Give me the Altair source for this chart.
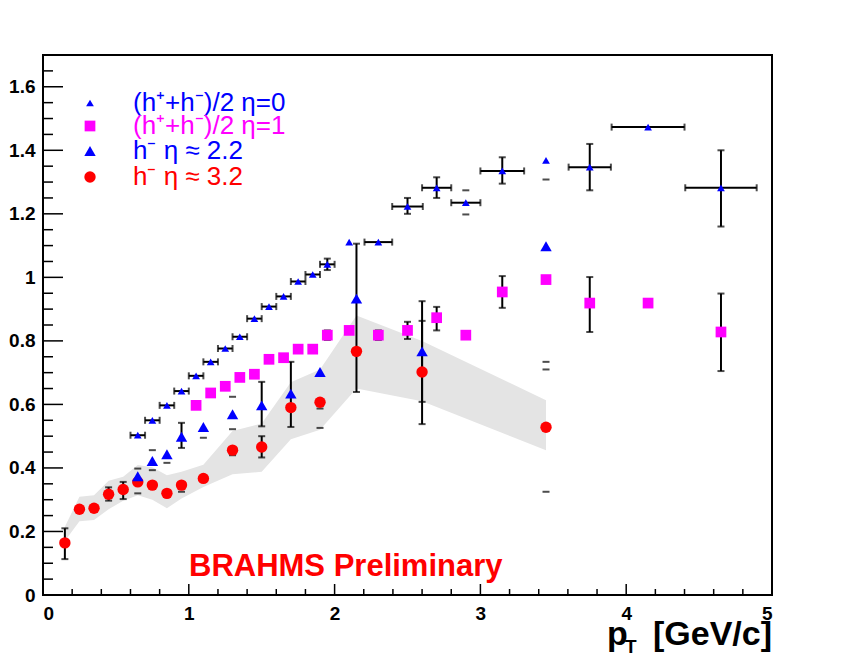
import altair as alt
import pandas as pd

# ---------------- data ----------------
# (h+ + h-)/2, eta = 0  (small blue triangles)
e0_x = [0.65, 0.75, 0.85, 0.95, 1.05, 1.15, 1.25, 1.35, 1.45, 1.55, 1.65, 1.75, 1.85, 1.95,
        2.1, 2.3, 2.5, 2.7, 2.9, 3.15, 3.45, 3.75, 4.15, 4.65]
e0_y = [0.503, 0.550, 0.597, 0.642, 0.690, 0.734, 0.776, 0.813, 0.870, 0.908, 0.940, 0.987, 1.009, 1.041,
        1.111, 1.111, 1.223, 1.282, 1.235, 1.335, 1.368, 1.347, 1.473, 1.282]
e0_ylo = [0, 0, 0, 0, 0, 0, 0, 0, 0, 0, 0, 0, 0, 0.018,
          0, 0, 0.023, 0.032, 0, 0.040, 0, 0.073, 0, 0.122]
e0_yhi = [0, 0, 0, 0, 0, 0, 0, 0, 0, 0, 0, 0, 0, 0.018,
          0, 0, 0.027, 0.033, 0, 0.043, 0, 0.073, 0, 0.118]
e0_xerr = [0.05, 0.05, 0.05, 0.05, 0.05, 0.05, 0.05, 0.05, 0.05, 0.05, 0.05, 0.05, 0.05, 0.05,
           0, 0.095, 0.105, 0.1, 0.1, 0.15, 0, 0.145, 0.25, 0.245]

# (h+ + h-)/2, eta = 1  (magenta squares)
e1_x = [1.05, 1.15, 1.25, 1.35, 1.45, 1.55, 1.65, 1.75, 1.85, 1.95, 2.1, 2.3, 2.5, 2.7, 2.9,
        3.15, 3.45, 3.75, 4.15, 4.65]
e1_y = [0.597, 0.636, 0.657, 0.685, 0.695, 0.742, 0.747, 0.774, 0.774, 0.818, 0.833, 0.818, 0.833,
        0.873, 0.818, 0.954, 0.993, 0.919, 0.919, 0.828]
e1_ylo = [0, 0, 0, 0, 0, 0, 0, 0, 0, 0.015, 0, 0.015, 0.027, 0.040, 0, 0.050, 0, 0.091, 0, 0.123]
e1_yhi = [0, 0, 0, 0, 0, 0, 0, 0, 0, 0.015, 0, 0.015, 0.027, 0.034, 0, 0.050, 0, 0.082, 0, 0.121]

# h-, eta ~ 2.2  (blue triangles)
e2_x = [0.65, 0.75, 0.85, 0.95, 1.1, 1.3, 1.5, 1.7, 1.9, 2.15, 2.6, 3.45]
e2_y = [0.374, 0.422, 0.443, 0.498, 0.529, 0.569, 0.597, 0.634, 0.702, 0.933, 0.767, 1.098]
e2_ylo = [0, 0, 0, 0.035, 0, 0, 0.066, 0.105, 0, 0.294, 0.229, 0]
e2_yhi = [0, 0, 0, 0.044, 0, 0, 0.074, 0.100, 0, 0.173, 0.158, 0]

# h-, eta ~ 3.2  (red circles)
e3_x = [0.15, 0.25, 0.35, 0.45, 0.55, 0.65, 0.75, 0.85, 0.95, 1.1, 1.3, 1.5, 1.7, 1.9, 2.15, 2.6, 3.45]
e3_y = [0.164, 0.270, 0.273, 0.317, 0.332, 0.356, 0.346, 0.320, 0.346, 0.367, 0.456, 0.466,
        0.590, 0.607, 0.767, 0.702, 0.528]
e3_ylo = [0.051, 0, 0, 0.020, 0.030, 0, 0, 0, 0, 0, 0, 0.033, 0, 0, 0, 0.094, 0]
e3_yhi = [0.046, 0, 0, 0.022, 0.024, 0, 0, 0, 0, 0, 0, 0.034, 0, 0, 0, 0.161, 0]

# systematic band of the eta ~ 3.2 points
band_x = [0.15, 0.25, 0.35, 0.45, 0.55, 0.65, 0.75, 0.85, 0.95, 1.1, 1.3, 1.5, 1.7, 1.9, 2.15, 2.6, 3.45]
band_hi = [0.215, 0.309, 0.314, 0.360, 0.372, 0.409, 0.402, 0.377, 0.388, 0.410, 0.516, 0.540,
           0.670, 0.710, 0.880, 0.800, 0.613]
band_lo = [0.170, 0.232, 0.236, 0.270, 0.297, 0.314, 0.300, 0.273, 0.304, 0.340, 0.380, 0.388,
           0.490, 0.520, 0.650, 0.610, 0.456]

# error-bar end caps drawn without a visible bar
cap_x = [0.65, 0.65, 0.75, 0.75, 0.85, 0.95, 1.1, 1.3, 1.3, 1.3, 1.9, 1.9, 2.9, 2.9, 3.45, 3.45, 3.45, 3.45]
cap_y = [0.398, 0.320, 0.456, 0.393, 0.416, 0.325, 0.495, 0.624, 0.522, 0.440, 0.587, 0.526,
         1.274, 1.198, 1.308, 0.734, 0.710, 0.325]

# axis ticks
y_major = [0, 0.2, 0.4, 0.6, 0.8, 1.0, 1.2, 1.4, 1.6]
y_minor = [0.05, 0.1, 0.15, 0.25, 0.3, 0.35, 0.45, 0.5, 0.55, 0.65, 0.7, 0.75, 0.85, 0.9, 0.95,
           1.05, 1.1, 1.15, 1.25, 1.3, 1.35, 1.45, 1.5, 1.55, 1.65]
x_major = [0, 1, 2, 3, 4, 5]
x_minor = [0.2, 0.4, 0.6, 0.8, 1.2, 1.4, 1.6, 1.8, 2.2, 2.4, 2.6, 2.8, 3.2, 3.4, 3.6, 3.8,
           4.2, 4.4, 4.6, 4.8]

legend_labels = ["(h\u207a+h\u207b)/2 \u03b7=0", "(h\u207a+h\u207b)/2 \u03b7=1",
                 "h\u207b \u03b7 \u2248 2.2", "h\u207b \u03b7 \u2248 3.2"]

# ---------------- chart ----------------
W, H = 729, 540
FONT = "Liberation Sans"
BLUE, MAG, RED = "#0000ff", "#ff00ff", "#ff0000"
S_SMALL_TRI, S_SQ, S_TRI, S_CIRC = 60, 115, 130, 130

xs = alt.Scale(domain=[0, 5], nice=False, zero=False)
ys = alt.Scale(domain=[0, 1.7], nice=False, zero=False)

x_axis = alt.Axis(values=x_major, labelFont=FONT, labelFontSize=19, labelFontWeight="bold",
                  labelColor="black", ticks=False, tickSize=0, domain=False, grid=False,
                  labelPadding=9, labelExpr="format(datum.value, '~g')", title=None)
y_axis = alt.Axis(values=y_major, labelFont=FONT, labelFontSize=19, labelFontWeight="bold",
                  labelColor="black", ticks=False, tickSize=0, domain=False, grid=False,
                  labelPadding=8, labelExpr="format(datum.value, '~g')", title=None)


def X(f):
    return alt.X(f, type="quantitative", scale=xs, axis=x_axis)


def Y(f):
    return alt.Y(f, type="quantitative", scale=ys, axis=y_axis)


def series_df(x, y, ylo, yhi, xerr=None):
    d = pd.DataFrame({"x": x, "y": y, "ylo": ylo, "yhi": yhi})
    d["xerr"] = xerr if xerr is not None else [0] * len(x)
    d["y1"] = d["y"] - d["ylo"]
    d["y2"] = d["y"] + d["yhi"]
    d["x1"] = d["x"] - d["xerr"]
    d["x2"] = d["x"] + d["xerr"]
    return d


s0 = series_df(e0_x, e0_y, e0_ylo, e0_yhi, e0_xerr)
s1 = series_df(e1_x, e1_y, e1_ylo, e1_yhi)
s2 = series_df(e2_x, e2_y, e2_ylo, e2_yhi)
s3 = series_df(e3_x, e3_y, e3_ylo, e3_yhi)
allS = pd.concat([s0, s1, s2, s3], ignore_index=True)

vbars = allS[(allS["ylo"] > 0) | (allS["yhi"] > 0)]
hbars = allS[allS["xerr"] > 0]
vcaps = pd.concat([pd.DataFrame({"x": vbars["x"], "y": vbars["y1"]}),
                   pd.DataFrame({"x": vbars["x"], "y": vbars["y2"]}),
                   pd.DataFrame({"x": cap_x, "y": cap_y})], ignore_index=True)
hcaps = pd.concat([pd.DataFrame({"x": hbars["x1"], "y": hbars["y"]}),
                   pd.DataFrame({"x": hbars["x2"], "y": hbars["y"]})], ignore_index=True)

band = alt.Chart(pd.DataFrame({"x": band_x, "hi": band_hi, "lo": band_lo})).mark_area(
    color="#e4e4e4", opacity=1, interpolate="linear").encode(x=X("x"), y=Y("hi"), y2="lo")

vbar_l = alt.Chart(vbars).mark_rule(color="black", strokeWidth=2).encode(x=X("x"), y=Y("y1"), y2="y2")
hbar_l = alt.Chart(hbars).mark_rule(color="black", strokeWidth=2).encode(x=X("x1"), x2="x2", y=Y("y"))
vcap_l = alt.Chart(vcaps).mark_tick(color="black", orient="horizontal", size=7, thickness=2).encode(
    x=X("x"), y=Y("y"))
hcap_l = alt.Chart(hcaps).mark_tick(color="black", orient="vertical", size=7, thickness=2).encode(
    x=X("x"), y=Y("y"))


def markers(d, shape, size, color):
    return alt.Chart(d).mark_point(shape=shape, size=size, filled=True, color=color, opacity=1,
                                   strokeWidth=0).encode(x=X("x"), y=Y("y"))


m0 = markers(s0, "triangle-up", S_SMALL_TRI, BLUE)
m1 = markers(s1, "square", S_SQ, MAG)
m2 = markers(s2, "triangle-up", S_TRI, BLUE)
m3 = markers(s3, "circle", S_CIRC, RED)

# axis ticks drawn inside the frame
ymaj = alt.Chart(pd.DataFrame({"v": y_major})).mark_rule(color="black", strokeWidth=1.5).encode(
    y=Y("v"), x=alt.value(0), x2=alt.value(20))
ymin = alt.Chart(pd.DataFrame({"v": y_minor})).mark_rule(color="black", strokeWidth=1.5).encode(
    y=Y("v"), x=alt.value(0), x2=alt.value(10))
xmaj = alt.Chart(pd.DataFrame({"v": x_major})).mark_rule(color="black", strokeWidth=1.5).encode(
    x=X("v"), y=alt.value(H), y2=alt.value(H - 11))
xmin = alt.Chart(pd.DataFrame({"v": x_minor})).mark_rule(color="black", strokeWidth=1.5).encode(
    x=X("v"), y=alt.value(H), y2=alt.value(H - 6))


def label(text, x, y, size, color="black", weight="normal", align="left", baseline="alphabetic"):
    return alt.Chart(pd.DataFrame({"t": [text]})).mark_text(
        font=FONT, fontSize=size, fontWeight=weight, color=color, align=align, baseline=baseline
    ).encode(x=alt.value(x), y=alt.value(y), text="t:N")


brahms = label("BRAHMS Preliminary", 146, 521, 31, RED, "bold")
t_unit = label("[GeV/c]", 729, 590, 34, "black", "bold", align="right")
t_p = label("p", 564, 590, 34, "black", "bold")
t_T = label("T", 582, 598, 19, "black", "bold")

leg_rows = [48, 71, 96, 122]
leg_colors = [BLUE, MAG, BLUE, RED]
leg_shapes = [("triangle-up", S_SMALL_TRI), ("square", S_SQ), ("triangle-up", S_TRI), ("circle", S_CIRC)]
leg_layers = []
for i in range(4):
    shp, sz = leg_shapes[i]
    leg_layers.append(
        alt.Chart(pd.DataFrame({"t": [legend_labels[i]]})).mark_point(
            shape=shp, size=sz, filled=True, color=leg_colors[i], opacity=1, strokeWidth=0
        ).encode(x=alt.value(47), y=alt.value(leg_rows[i])))
    leg_layers.append(label(legend_labels[i], 90, leg_rows[i], 26, leg_colors[i], "normal",
                            baseline="middle"))

chart = alt.layer(
    band, vbar_l, hbar_l, vcap_l, hcap_l, m1, m3, m2, m0,
    ymaj, ymin, xmaj, xmin, brahms, t_unit, t_p, t_T, *leg_layers
).properties(
    width=W, height=H,
    autosize=alt.AutoSizeParams(type="none"),
    padding={"left": 35, "top": 47, "right": 64, "bottom": 61},
    background="white",
).configure_view(stroke="black", strokeWidth=2)

chart.save("out.html", embed_options={"renderer": "svg", "actions": False})
